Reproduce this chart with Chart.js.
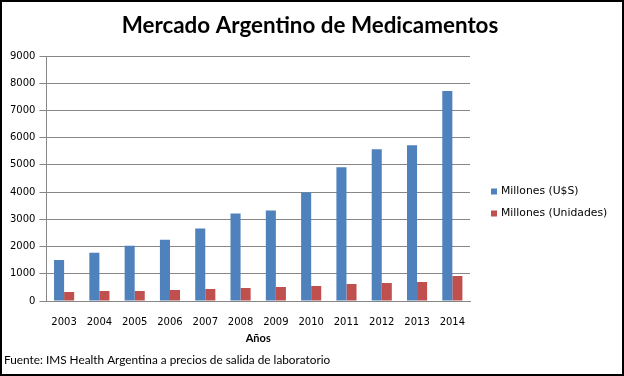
<!DOCTYPE html>
<html>
<head>
<meta charset="utf-8">
<script src="https://cdn.jsdelivr.net/npm/chart.js@4/dist/chart.umd.min.js"></script>
<style>
  html, body { margin: 0; padding: 0; background: #fff; }
  #wrap { width: 624px; height: 376px; box-sizing: border-box; border: 2px solid #000; position: relative; }
  canvas { display: block; }
</style>
</head>
<body>
<div id="wrap"><canvas id="c" width="620" height="372"></canvas></div>
<script>
const categories = ['2003','2004','2005','2006','2007','2008','2009','2010','2011','2012','2013','2014'];
const millonesUSD = [1510, 1770, 2030, 2250, 2660, 3210, 3320, 3990, 4910, 5570, 5720, 7710];
const millonesUnidades = [330, 370, 370, 405, 445, 480, 515, 555, 625, 665, 700, 920];
const yTicks = [0,1000,2000,3000,4000,5000,6000,7000,8000,9000];
const titleText = 'Mercado Argentino de Medicamentos';
const xTitle = 'Años';
const footerText = 'Fuente: IMS Health Argentina a precios de salida de laboratorio';

const gridColor = '#868686';

const extras = {
  id: 'extras',
  afterDraw(chart) {
    const ctx = chart.ctx;
    const area = chart.chartArea;
    ctx.save();
    ctx.fillStyle = '#000';
    // title
    ctx.font = 'bold 22.4px Lato';
    ctx.textAlign = 'center';
    ctx.textBaseline = 'alphabetic';
    ctx.fillText(titleText, 308, 31);
    // x axis title
    ctx.font = 'bold 11px Lato';
    ctx.textBaseline = 'middle';
    ctx.fillText(xTitle, (area.left + area.right) / 2, 336);
    // footer
    ctx.font = '11.8px Lato';
    ctx.textAlign = 'left';
    ctx.textBaseline = 'alphabetic';
    ctx.fillText(footerText, 2, 362);
    // legend
    ctx.font = '10.8px "DejaVu Sans"';
    ctx.textBaseline = 'middle';
    const ys = [189.5, 211.5];
    chart.data.datasets.forEach((ds, i) => {
      ctx.fillStyle = ds.backgroundColor;
      ctx.fillRect(489, ys[i] - 3, 6, 6);
      ctx.fillStyle = '#000';
      ctx.fillText(ds.label, 499, ys[i]);
    });
    ctx.restore();
  }
};

new Chart(document.getElementById('c'), {
  type: 'bar',
  data: {
    labels: categories,
    datasets: [
      { label: 'Millones (U$S)', data: millonesUSD, backgroundColor: '#4F81BD' },
      { label: 'Millones (Unidades)', data: millonesUnidades, backgroundColor: '#C0504D' }
    ]
  },
  options: {
    responsive: false,
    animation: false,
    devicePixelRatio: 1,
    layout: { padding: { top: 54, right: 152, left: 4, bottom: 31 } },
    datasets: { bar: { categoryPercentage: 0.57, barPercentage: 1.0 } },
    plugins: { legend: { display: false }, title: { display: false }, tooltip: { enabled: false } },
    scales: {
      x: {
        grid: { display: false, drawTicks: false },
        border: { color: gridColor, width: 1 },
        ticks: { color: '#000', font: { family: 'DejaVu Sans', size: 10 }, padding: 15, maxRotation: 0 }
      },
      y: {
        min: 0, max: 9000,
        afterBuildTicks(axis) { axis.ticks = yTicks.map(v => ({ value: v })); },
        grid: { color: gridColor, lineWidth: 1, tickLength: 7, tickColor: gridColor },
        border: { color: gridColor, width: 1 },
        ticks: { color: '#000', font: { family: 'DejaVu Sans', size: 10 }, padding: 4, callback: (v) => String(v) }
      }
    }
  },
  plugins: [extras]
});
</script>
</body>
</html>
